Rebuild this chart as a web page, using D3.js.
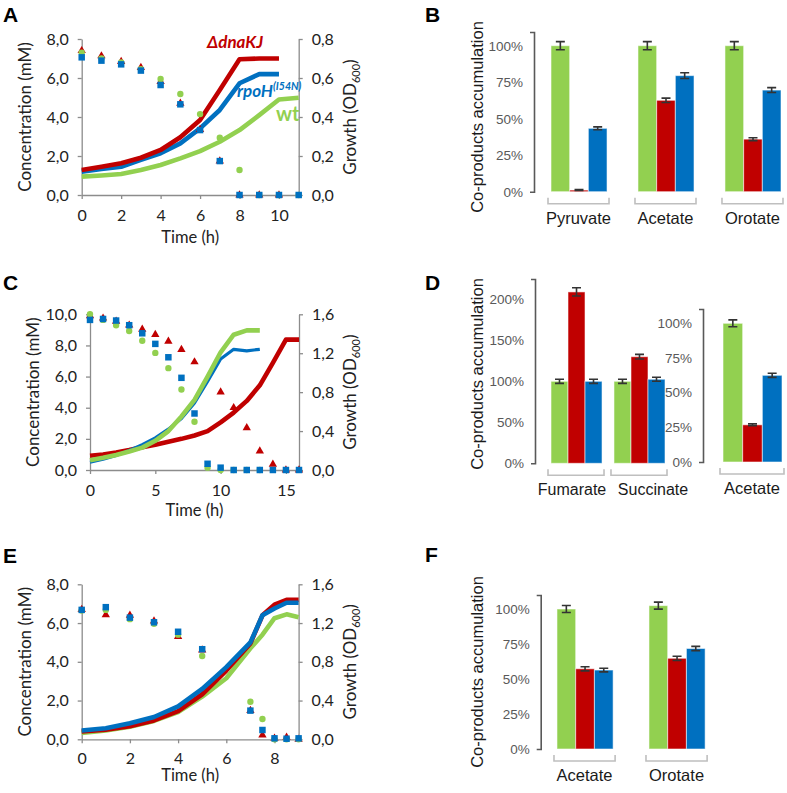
<!DOCTYPE html>
<html><head><meta charset="utf-8">
<script src="https://cdn.jsdelivr.net/npm/d3@7"></script>
<style>body{margin:0;background:#fff}svg{display:block}</style>
</head><body>
<svg id="c" width="787" height="793"></svg>
<script>
// ---------------- DATA ----------------
// Panel A (time in h)
const timeA = [0,1,2,3,4,5,6,7,8,9,10,11];
const concA_dnaKJ = [7.4,7.13,6.84,6.53,5.81,4.7,3.35,1.74,0,0,0,null];
const concA_wt    = [7.3,7.0,6.8,6.45,5.95,5.18,4.15,2.94,1.28,0,0,0];
const concA_rpoH  = [7.06,6.89,6.7,6.38,5.64,4.65,3.33,1.74,0,0,0,0];
const odA_dnaKJ = [0.128,0.145,0.163,0.191,0.231,0.296,0.385,0.538,0.696,0.70,0.70,null];
const odA_rpoH  = [0.12,0.133,0.145,0.18,0.214,0.265,0.342,0.436,0.573,0.62,0.62,null];
const odA_wt    = [0.094,0.1,0.108,0.128,0.154,0.188,0.225,0.273,0.333,0.41,0.49,0.499];
const ticksA_x = [0,2,4,6,8,10];
const ticksA_conc = [0,2,4,6,8];
const ticksA_od = [0,0.2,0.4,0.6,0.8];

// Panel C
const timeC = [0,1,2,3,4,5,6,7,8,9,10,11,12,13,14,15,16];
const concC_dnaKJ = [9.9,9.75,9.55,9.3,9.04,8.7,8.27,7.73,6.94,null,5.0,4.0,2.71,1.21,0.36,0,0];
const concC_wt    = [10.0,9.64,9.3,8.93,8.3,7.52,6.54,5.17,3.1,0.15,0,0,0,0,null,null,null];
const concC_rpoH  = [9.64,9.7,9.6,9.3,8.78,8.1,7.24,5.92,3.63,0.4,0.15,0,0,0,0,0,0];
const odC_dnaKJ = [0.147,0.16,0.18,0.205,0.235,0.26,0.29,0.32,0.355,0.40,0.49,0.59,0.71,0.87,1.1,1.34,1.34];
const odC_wt    = [0.10,0.125,0.155,0.19,0.23,0.30,0.40,0.55,0.72,0.96,1.21,1.39,1.435,1.435,null,null,null];
const odC_rpoH  = [0.08,0.11,0.15,0.20,0.26,0.33,0.42,0.53,0.69,0.91,1.14,1.24,1.225,1.24,null,null,null];
const ticksC_x = [0,5,10,15];
const ticksC_conc = [0,2,4,6,8,10];
const ticksC_od = [0,0.4,0.8,1.2,1.6];

// Panel E
const timeE = [0,1,2,3,4,5,6,7,7.5,8,8.5,9];
const concE_dnaKJ = [6.7,6.42,6.4,6.1,5.3,4.6,null,1.48,0.22,0.05,0.1,0];
const concE_wt    = [6.65,6.68,6.2,5.96,5.4,4.3,null,1.94,1.05,0,0,0];
const concE_rpoH  = [6.68,6.82,6.28,6.04,5.55,4.65,null,1.48,0.48,0.05,0.03,0.05];
const odE_dnaKJ = [0.08,0.1,0.135,0.195,0.29,0.465,0.71,0.99,1.28,1.39,1.44,1.44];
const odE_wt    = [0.065,0.09,0.13,0.19,0.28,0.44,0.63,0.94,1.08,1.25,1.29,1.26];
const odE_rpoH  = [0.09,0.114,0.165,0.23,0.34,0.52,0.745,1.0,1.28,1.35,1.41,1.41];
const ticksE_x = [0,2,4,6,8];
const ticksE_conc = [0,2,4,6,8];
const ticksE_od = [0,0.4,0.8,1.2,1.6];

// Panel B
const catsB = ["Pyruvate","Acetate","Orotate"];
const B_wt = [1.0,1.0,1.0],   B_wt_err = [0.028,0.028,0.028];
const B_dnaKJ = [0.011,0.626,0.36], B_dnaKJ_err = [0.003,0.015,0.01];
const B_rpoH = [0.434,0.795,0.696], B_rpoH_err = [0.01,0.02,0.017];
// Panel D
const catsD1 = ["Fumarate","Succinate"];
const D1_wt = [1.0,1.0], D1_wt_err = [0.025,0.025];
const D1_dnaKJ = [2.09,1.30], D1_dnaKJ_err = [0.05,0.028];
const D1_rpoH = [1.0,1.025], D1_rpoH_err = [0.025,0.025];
const catsD2 = ["Acetate"];
const D2_wt = [1.0], D2_wt_err = [0.025];
const D2_dnaKJ = [0.268], D2_dnaKJ_err = [0.007];
const D2_rpoH = [0.625], D2_rpoH_err = [0.015];
// Panel F
const catsF = ["Acetate","Orotate"];
const F_wt = [1.0,1.024], F_wt_err = [0.025,0.025];
const F_dnaKJ = [0.573,0.648], F_dnaKJ_err = [0.015,0.015];
const F_rpoH = [0.564,0.718], F_rpoH_err = [0.013,0.015];
const ticksPct4 = [0,0.25,0.5,0.75,1.0];
const ticksPctD1 = [0,0.5,1.0,1.5,2.0];

// ---------------- STYLE ----------------
const COL = {wt:'#92d050', dnaKJ:'#c00000', rpoH:'#0070c0'};
const LFONT = 'Lato, "Open Sans", sans-serif';
const BFONT = '"Liberation Sans", Arial, sans-serif';
const svg = d3.select('#c');
const fmtC = v => d3.format('.1f')(v).replace('.', ',');

function zip(t, v){ return t.map((tt,i)=>({t:tt, v:v[i]})).filter(d=>d.v!=null); }

function styleAxis(sel, col, font, size, tcol){
  sel.selectAll('path,line').attr('stroke', col).attr('stroke-width', 1.3);
  sel.selectAll('text').attr('font-family', font).attr('font-size', size).attr('fill', tcol);
}

function linePanel(p){
  const g = svg.append('g');
  const x = d3.scaleLinear().domain([0,p.xMax]).range([p.x0,p.x1]);
  const yc = d3.scaleLinear().domain([0,p.cMax]).range([p.yBot,p.yTop]);
  const yo = d3.scaleLinear().domain([0,p.odMax]).range([p.yBot,p.yTop]);
  const gx = g.append('g').attr('transform',`translate(0,${p.yBot})`)
    .call(d3.axisBottom(x).tickValues(p.xTicks).tickSize(4).tickSizeOuter(0).tickPadding(p.xPad||11).tickFormat(d3.format('d')));
  styleAxis(gx,'#8c8c8c',LFONT,16,'#222');
  const gl = g.append('g').attr('transform',`translate(${p.x0},0)`)
    .call(d3.axisLeft(yc).tickValues(p.cTicks).tickSize(4).tickSizeOuter(0).tickPadding(9).tickFormat(fmtC));
  styleAxis(gl,'#8c8c8c',LFONT,16,'#222');
  const gr = g.append('g').attr('transform',`translate(${p.x1},0)`)
    .call(d3.axisRight(yo).tickValues(p.odTicks).tickSize(4).tickSizeOuter(0).tickPadding(9).tickFormat(fmtC));
  styleAxis(gr,'#8c8c8c',LFONT,16,'#222');
  // titles
  g.append('text').attr('x',(p.x0+p.x1)/2).attr('y',p.timeY).attr('text-anchor','middle')
    .attr('font-family',LFONT).attr('font-size',16.5).attr('fill','#222').text('Time (h)');
  g.append('text').attr('transform',`translate(${p.x0-51},${(p.yTop+p.yBot)/2}) rotate(-90)`)
    .attr('text-anchor','middle').attr('font-family',LFONT).attr('font-size',17).attr('fill','#222')
    .text('Concentration (mM)');
  const gt = g.append('text').attr('transform',`translate(${p.x1+57},${(p.yTop+p.yBot)/2}) rotate(-90)`)
    .attr('text-anchor','middle').attr('font-family',LFONT).attr('font-size',17).attr('fill','#222');
  gt.append('tspan').text('Growth (OD');
  gt.append('tspan').attr('font-size',11).attr('dy',4).text('600');
  gt.append('tspan').attr('dy',-4).text(')');
  // lines
  const line = d3.line().x(d=>x(d.t)).y(d=>yo(d.v));
  p.lines.forEach(s=>{
    g.append('path').datum(zip(p.t, s.v)).attr('d',line).attr('fill','none')
      .attr('stroke',s.color).attr('stroke-width',s.w||4.6).attr('stroke-linejoin','round');
  });
  // points
  p.points.forEach(s=>{
    const sym = d3.symbol().type(s.shape).size(s.size);
    g.append('g').selectAll('path').data(zip(p.t, s.v)).join('path')
      .attr('transform',d=>`translate(${x(d.t)},${yc(d.v)})`)
      .attr('d',sym).attr('fill',s.color);
  });
  return {g,x,yc,yo};
}

function barPanel(p){
  const g = svg.append('g');
  const topVal = (p.y0-p.axisTop)/(p.y0-p.y100);
  const y = d3.scaleLinear().domain([0,topVal]).range([p.y0,p.axisTop]);
  const xb = d3.scaleBand().domain(p.cats).range(p.range).paddingInner(p.pi).paddingOuter(p.po);
  const keys = ['wt','dnaKJ','rpoH'];
  const xs = d3.scaleBand().domain(keys).range([0,xb.bandwidth()]);
  const ga = g.append('g').attr('transform',`translate(${p.axisX},0)`)
    .call(d3.axisLeft(y).tickValues(p.ticks).tickFormat(d3.format('.0%')).tickSizeInner(0).tickSizeOuter(4).tickPadding(11));
  ga.selectAll('path,line').attr('stroke','#595959').attr('stroke-width',1.6);
  ga.selectAll('text').attr('font-family',BFONT).attr('font-size',13.5).attr('fill','#595959');
  const rows = p.cats.map((c,i)=>keys.map(k=>({c, k, v:p.data[k][i], e:p.err[k][i]}))).flat();
  g.append('g').selectAll('rect').data(rows).join('rect')
    .attr('x',d=>xb(d.c)+xs(d.k)).attr('width',xs.bandwidth())
    .attr('y',d=>y(d.v)).attr('height',d=>p.y0-y(d.v))
    .attr('fill',d=>COL[d.k]).attr('stroke','rgba(255,255,255,0.55)').attr('stroke-width',1);
  const eb = g.append('g').attr('stroke','#333').attr('stroke-width',1.6).attr('fill','none');
  rows.forEach(d=>{
    const cx = xb(d.c)+xs(d.k)+xs.bandwidth()/2;
    const a = y(d.v+d.e), b = y(Math.max(0,d.v-d.e));
    eb.append('path').attr('d',`M${cx},${a}V${b}M${cx-4.5},${a}H${cx+4.5}M${cx-4.5},${b}H${cx+4.5}`);
  });
  // brackets and labels
  p.cats.forEach((c,i)=>{
    const a = xb(c)-3, b = xb(c)+xb.bandwidth()+2;
    g.append('path').attr('d',`M${a},${p.y0+6}V${p.y0+12}H${b}V${p.y0+6}`)
      .attr('fill','none').attr('stroke','#bfbfbf').attr('stroke-width',1.6);
    const dx = p.labelShift ? p.labelShift[i] : 0;
    g.append('text').attr('x',(a+b)/2+dx).attr('y',p.y0+32).attr('text-anchor','middle')
      .attr('font-family',BFONT).attr('font-size',p.labelSize||16.5).attr('fill','#1a1a1a').text(c);
  });
  return g;
}

function yTitleBar(x, yc){
  svg.append('text').attr('transform',`translate(${x},${yc}) rotate(-90)`).attr('text-anchor','middle')
    .attr('font-family',BFONT).attr('font-size',16.5).attr('fill','#1a1a1a').text('Co-products accumulation');
}
function letter(t,x,y){
  svg.append('text').attr('x',x).attr('y',y).attr('font-family',BFONT).attr('font-weight','bold')
    .attr('font-size',21).attr('fill','#000').text(t);
}

// ---------------- PANEL A ----------------
const TRI = d3.symbolTriangle, SQ = d3.symbolSquare, CIR = d3.symbolCircle;
const PTS = (r,w,b)=>[{v:r,color:COL.dnaKJ,shape:TRI,size:30},{v:w,color:COL.wt,shape:CIR,size:32},{v:b,color:COL.rpoH,shape:SQ,size:42}];
const A = linePanel({x0:81.7,x1:298.7,xMax:11,yTop:39,yBot:195,cMax:8,odMax:0.8,timeY:243,
  xTicks:ticksA_x,cTicks:ticksA_conc,odTicks:ticksA_od,t:timeA,
  lines:[{v:odA_wt,color:COL.wt},{v:odA_rpoH,color:COL.rpoH},{v:odA_dnaKJ,color:COL.dnaKJ}],
  points:PTS(concA_dnaKJ,concA_wt,concA_rpoH)});
A.g.append('text').attr('x',207).attr('y',48).attr('font-family',LFONT).attr('font-weight','bold')
  .attr('font-style','italic').attr('font-size',17).attr('fill',COL.dnaKJ).text('ΔdnaKJ');
const rp = A.g.append('text').attr('x',237).attr('y',97).attr('font-family',LFONT).attr('font-weight','bold')
  .attr('font-style','italic').attr('font-size',17).attr('fill',COL.rpoH);
rp.append('tspan').text('rpoH');
rp.append('tspan').attr('font-size',10.5).attr('dy',-7).text('(I54N)');
A.g.append('text').attr('x',276).attr('y',121).attr('font-family',LFONT).attr('font-weight','bold')
  .attr('font-size',20).attr('fill',COL.wt).text('wt');

// ---------------- PANEL C ----------------
linePanel({x0:90,x1:299,xMax:16,yTop:314.3,yBot:470,cMax:10,odMax:1.6,timeY:516,
  xTicks:ticksC_x,cTicks:ticksC_conc,odTicks:ticksC_od,t:timeC,
  lines:[{v:odC_dnaKJ,color:COL.dnaKJ},{v:odC_rpoH,color:COL.rpoH,w:3.2},{v:odC_wt,color:COL.wt}],
  points:PTS(concC_dnaKJ,concC_wt,concC_rpoH)});

// ---------------- PANEL E ----------------
linePanel({x0:81.7,x1:298.6,xMax:9,yTop:584.3,yBot:739.3,cMax:8,odMax:1.6,timeY:781,xPad:9,
  xTicks:ticksE_x,cTicks:ticksE_conc,odTicks:ticksE_od,t:timeE,
  lines:[{v:odE_wt,color:COL.wt},{v:odE_dnaKJ,color:COL.dnaKJ},{v:odE_rpoH,color:COL.rpoH}],
  points:PTS(concE_dnaKJ,concE_wt,concE_rpoH)});

// ---------------- PANEL B ----------------
barPanel({axisX:534,y0:191.7,y100:45.7,axisTop:32,ticks:ticksPct4,cats:catsB,
  range:[533.6,798.4],pi:0.356,po:0.2,
  data:{wt:B_wt,dnaKJ:B_dnaKJ,rpoH:B_rpoH},err:{wt:B_wt_err,dnaKJ:B_dnaKJ_err,rpoH:B_rpoH_err}});
yTitleBar(483,117);

// ---------------- PANEL D ----------------
barPanel({axisX:535,y0:463.3,y100:381.3,axisTop:279,ticks:ticksPctD1,cats:catsD1,
  range:[535,681],pi:0.19,po:0.254,labelShift:[-4,14],labelSize:16,
  data:{wt:D1_wt,dnaKJ:D1_dnaKJ,rpoH:D1_rpoH},err:{wt:D1_wt_err,dnaKJ:D1_dnaKJ_err,rpoH:D1_rpoH_err}});
barPanel({axisX:703,y0:462,y100:323.3,axisTop:309,ticks:ticksPct4,cats:catsD2,
  range:[703,802],pi:0,po:0.339,
  data:{wt:D2_wt,dnaKJ:D2_dnaKJ,rpoH:D2_rpoH},err:{wt:D2_wt_err,dnaKJ:D2_dnaKJ_err,rpoH:D2_rpoH_err}});
yTitleBar(483,374);

// ---------------- PANEL F ----------------
barPanel({axisX:540.7,y0:749,y100:609,axisTop:595,ticks:ticksPct4,cats:catsF,
  range:[540.7,721.4],pi:0.39,po:0.177,
  data:{wt:F_wt,dnaKJ:F_dnaKJ,rpoH:F_rpoH},err:{wt:F_wt_err,dnaKJ:F_dnaKJ_err,rpoH:F_rpoH_err}});
yTitleBar(483,672);

letter('A',3,22); letter('B',425,22); letter('C',3,290); letter('D',425,290); letter('E',3,563); letter('F',425,562);
</script>
</body></html>
